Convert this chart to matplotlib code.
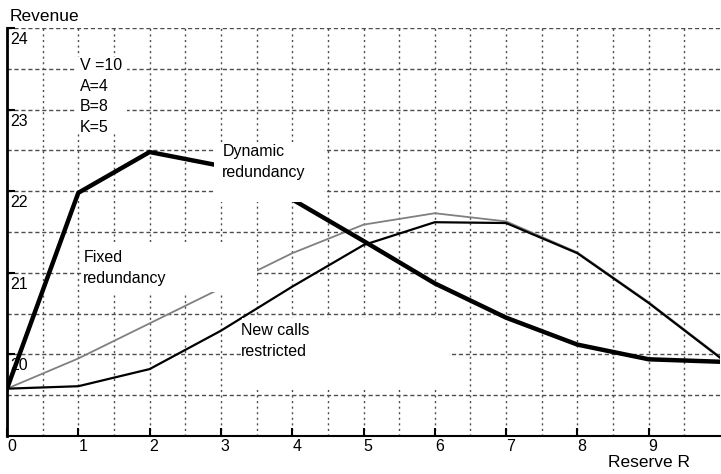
import numpy as np
import matplotlib
matplotlib.use("Agg")
from matplotlib import pyplot as plt
from matplotlib.patches import Rectangle
from matplotlib.transforms import ScaledTranslation

plt.rcParams['font.family'] = ['Liberation Sans', 'DejaVu Sans']

#---------------------------------------------------------------------------
reserve = [0, 1, 2, 3, 4, 5, 6, 7, 8, 9, 10]
dynamic_redundancy = [19.58, 21.98, 22.48, 22.31, 21.90, 21.39, 20.87, 20.45, 20.12, 19.94, 19.91]
fixed_redundancy = [19.58, 19.95, 20.38, 20.81, 21.24, 21.59, 21.73, 21.63, 21.25, 20.64, 19.97]
new_calls_restricted = [19.58, 19.61, 19.82, 20.29, 20.83, 21.34, 21.62, 21.61, 21.24, 20.63, 19.96]

x_ticks = [0, 1, 2, 3, 4, 5, 6, 7, 8, 9]
y_ticks = [20, 21, 22, 23, 24]
params_text = "V =10\nA=4\nB=8\nK=5"

#---------------------------------------------------------------------------
fig = plt.figure(figsize=(7.21, 4.74), dpi=100)
ax = fig.add_axes([7/721, 38/474, 713/721, 408/474])

ax.plot(reserve, fixed_redundancy, color='0.5', lw=1.3, zorder=2)
ax.plot(reserve, new_calls_restricted, color='black', lw=1.6, zorder=2.1)
ax.plot(reserve, dynamic_redundancy, color='black', lw=3.2, zorder=2.2,
        solid_joinstyle='miter')

ax.set_xlim(0, 10)
ax.set_ylim(19, 24)
ax.set_xticks(x_ticks)
ax.set_xticks(np.arange(0.5, 10, 0.5), minor=True)
ax.set_yticks(y_ticks)
ax.set_yticks(np.arange(19.5, 24, 0.5), minor=True)

ax.set_axisbelow(True)
ax.xaxis.grid(True, which='both', color='0.3', lw=1.0, ls=(0, (1.5, 2.5)))
ax.yaxis.grid(True, which='both', color='0.3', lw=1.0, ls=(0, (3, 2)))

for side in ['top', 'right']:
    ax.spines[side].set_visible(False)
ax.spines['left'].set_linewidth(2.0)
ax.spines['bottom'].set_linewidth(1.5)

ax.tick_params(axis='both', which='major', direction='in', length=6, width=1.5,
               labelsize=11.5)
ax.tick_params(axis='both', which='minor', length=0)
ax.tick_params(axis='y', pad=-2)
ax.tick_params(axis='x', pad=2)
shift_down = ScaledTranslation(0, -4/100, fig.dpi_scale_trans)
for lab in ax.get_yticklabels():
    lab.set_horizontalalignment('left')
    lab.set_verticalalignment('top')
    lab.set_transform(lab.get_transform() + shift_down)
for lab in ax.get_xticklabels():
    lab.set_horizontalalignment('left')

# white label boxes (they hide grid and lines behind them)
boxes = [(0.97, 22.70, 0.72, 0.94),
         (2.90, 21.87, 1.55, 0.71),
         (1.05, 20.76, 2.45, 0.62),
         (3.30, 19.58, 2.90, 0.87)]
for bx, by, bw, bh in boxes:
    ax.add_patch(Rectangle((bx, by), bw, bh, facecolor='white',
                           edgecolor='none', zorder=3))

ax.text(1.02, 23.63, params_text, fontsize=11.5, va='top', ha='left',
        linespacing=1.47, zorder=4)
ax.text(3.02, 22.58, "Dynamic\nredundancy", fontsize=11.5, va='top', ha='left',
        linespacing=1.5, zorder=4)
ax.text(1.07, 21.28, "Fixed\nredundancy", fontsize=11.5, va='top', ha='left',
        linespacing=1.5, zorder=4)
ax.text(3.28, 20.38, "New calls\nrestricted", fontsize=11.5, va='top', ha='left',
        linespacing=1.45, zorder=4)

fig.text(10/721, 1 - 9/474, "Revenue", fontsize=12.5, va='top', ha='left')
fig.text(608/721, 1 - 455/474, "Reserve R", fontsize=12.5, va='top', ha='left')

fig.savefig("out.png", dpi=100)
